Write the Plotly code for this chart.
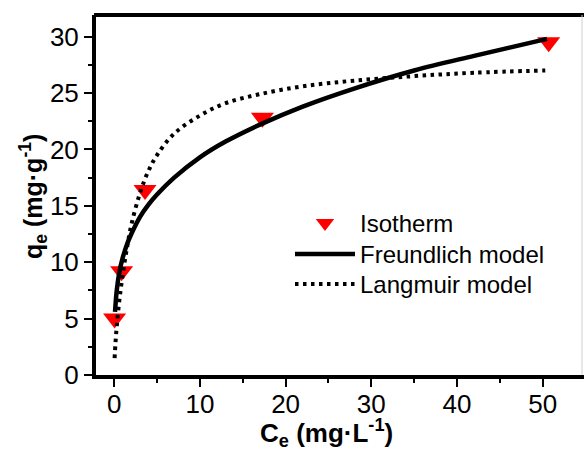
import plotly.graph_objects as go

# Experimental isotherm points
ce_exp = [0.05, 0.87, 3.6, 17.3, 50.7]
qe_exp = [5.0, 9.2, 16.4, 22.8, 29.5]

# Freundlich model curve
ce_fr = [0.1, 0.3, 0.6, 1, 1.5, 2, 3, 4, 5, 7, 10, 13, 17, 22, 28, 35, 42, 50.5]
qe_fr = [5.6, 7.5, 9.1, 10.4, 11.6, 12.5, 14.0, 15.1, 16.0, 17.5, 19.3, 20.7, 22.2, 23.8, 25.4, 27.0, 28.3, 29.8]

# Langmuir model curve
ce_la = [0.05, 0.15, 0.3, 0.6, 1, 1.5, 2, 3, 4, 5, 7, 10, 13, 17, 22, 28, 35, 42, 50.3]
qe_la = [1.5, 2.8, 4.3, 6.6, 8.9, 11.3, 13.3, 16.1, 18.1, 19.5, 21.4, 23.0, 24.1, 24.9, 25.6, 26.1, 26.5, 26.8, 27.0]

x_ticks = [0, 10, 20, 30, 40, 50]
y_ticks = [0, 5, 10, 15, 20, 25, 30]

FONT = "Arial, Liberation Sans, sans-serif"

fig = go.Figure()
fig.add_trace(go.Scatter(
    x=ce_exp, y=qe_exp, mode="markers", name="Isotherm", legend="legend",
    marker=dict(symbol="triangle-down", size=20, color="#ff0000", line=dict(width=0)),
))
fig.add_trace(go.Scatter(
    x=ce_fr, y=qe_fr, mode="lines", name="Freundlich model", legend="legend2",
    line=dict(color="black", width=4.5, shape="spline"),
))
fig.add_trace(go.Scatter(
    x=ce_la, y=qe_la, mode="lines", name="Langmuir model", legend="legend3",
    line=dict(color="black", width=4, dash="3.5px,4.5px", shape="spline"),
))


def leg(top_px):
    return dict(
        x=(290 - 96) / 488, y=(375 - top_px) / 360, xanchor="left", yanchor="top",
        bgcolor="rgba(0,0,0,0)", font=dict(size=24, family=FONT), itemwidth=60,
    )


fig.update_layout(
    width=584, height=449,
    margin=dict(l=96, r=0, t=15, b=74),
    paper_bgcolor="white", plot_bgcolor="white",
    font=dict(family=FONT, color="black"),
    showlegend=True,
    legend=leg(201),
    legend2=leg(232),
    legend3=leg(262),
    xaxis=dict(
        range=[-2.12, 54.82], tickvals=x_ticks, ticktext=[str(v) for v in x_ticks],
        showline=True, linecolor="black", linewidth=4, mirror=False,
        ticks="outside", ticklen=8, tickwidth=2, tickcolor="black",
        minor=dict(dtick=5, tick0=0, ticks="outside", ticklen=4, tickwidth=2, tickcolor="black"),
        showgrid=False, zeroline=False, ticklabelstandoff=-5,
        tickfont=dict(size=26, family=FONT),
    ),
    yaxis=dict(
        range=[0, 31.92], tickvals=y_ticks, ticktext=[str(v) for v in y_ticks],
        showline=True, linecolor="black", linewidth=4, mirror=False,
        ticks="outside", ticklen=8, tickwidth=2, tickcolor="black",
        minor=dict(dtick=2.5, tick0=0, ticks="outside", ticklen=4, tickwidth=2, tickcolor="black"),
        showgrid=False, zeroline=False,
        tickfont=dict(size=26, family=FONT),
    ),
    annotations=[
        dict(text="<b>C<sub>e</sub> (mg·L<sup>-1</sup>)</b>", xref="paper", yref="paper",
             x=(326 - 96) / 488, y=(375 - 433) / 360, xanchor="center", yanchor="middle",
             showarrow=False, font=dict(size=26, family=FONT)),
        dict(text="<b>q<sub>e</sub> (mg·g<sup>-1</sup>)</b>", xref="paper", yref="paper",
             x=(33 - 96) / 488, y=(375 - 197) / 360, xanchor="center", yanchor="middle",
             textangle=-90, showarrow=False, font=dict(size=25, family=FONT)),
    ],
    shapes=[
        dict(type="line", xref="paper", yref="paper", x0=-0.004, x1=1, y0=1, y1=1,
             line=dict(color="black", width=4)),
        dict(type="line", xref="paper", yref="paper", x0=(582 - 96) / 488, x1=(582 - 96) / 488,
             y0=0, y1=1, line=dict(color="#d0d0d0", width=1)),
    ],
)

fig.write_html("out.html", config={"displayModeBar": False},
               post_script="document.body.style.margin='0';")
